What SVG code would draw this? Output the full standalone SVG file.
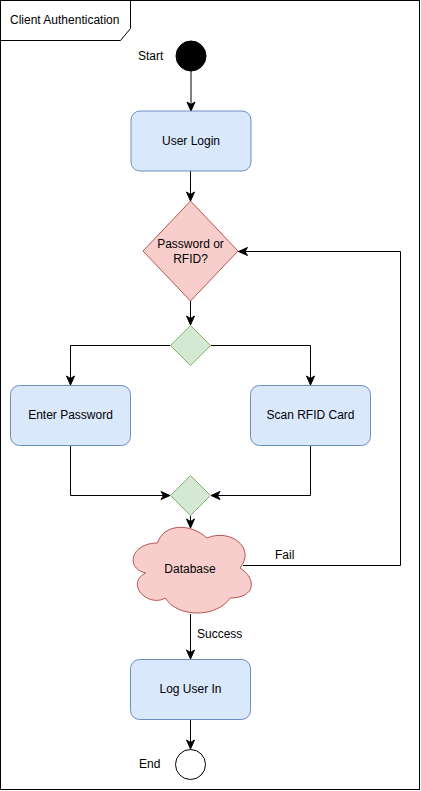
<svg xmlns="http://www.w3.org/2000/svg" width="421" height="791" viewBox="0 0 421 791">
<style>
text{font-family:"Liberation Sans",Arial,sans-serif;font-size:12px;fill:#000}
.c{text-anchor:middle}
.blue{fill:#dae8fc;stroke:#6c8ebf;stroke-width:1}
.red{fill:#f8cecc;stroke:#b85450;stroke-width:1}
.green{fill:#d5e8d4;stroke:#82b366;stroke-width:1}
.edge{fill:none;stroke:#000;stroke-width:1}
</style>
<defs>
<marker id="arr" markerUnits="userSpaceOnUse" markerWidth="12" markerHeight="12" viewBox="0 0 12 12" refX="10" refY="6" orient="auto">
<path d="M1,2 L10,6 L1,10 L3.5,6 Z" fill="#000" stroke="#000" stroke-width="1"/>
</marker>
</defs>
<rect width="421" height="791" fill="#fff"/>
<g id="frame">
<rect x="0.5" y="0.5" width="419" height="789" fill="none" stroke="#000"/>
<path d="M0.5,0.5 H130.5 V28.5 L120.5,40.5 H0.5 Z" fill="#fff" stroke="#000"/>
<text x="10" y="24">Client Authentication</text>
</g>
<g id="connectors">
<path class="edge" marker-end="url(#arr)" d="M191,71 V111"/>
<path class="edge" marker-end="url(#arr)" d="M190.5,171 V201"/>
<path class="edge" marker-end="url(#arr)" d="M190.5,301 V325"/>
<path class="edge" marker-end="url(#arr)" d="M170.5,345.5 H70.5 V385"/>
<path class="edge" marker-end="url(#arr)" d="M210.5,345.5 H310.5 V385"/>
<path class="edge" marker-end="url(#arr)" d="M70.5,445 V495.5 H170"/>
<path class="edge" marker-end="url(#arr)" d="M310.5,445 V495.5 H211"/>
<path class="edge" marker-end="url(#arr)" d="M190.5,515.5 V528"/>
<path class="edge" marker-end="url(#arr)" d="M243,565.5 H400.5 V251.5 H238.5"/>
<text x="275" y="559">Fail</text>
<path class="edge" marker-end="url(#arr)" d="M190.5,614 V659"/>
<text x="197" y="638">Success</text>
<path class="edge" marker-end="url(#arr)" d="M190.5,719 V749"/>
</g>
<g id="start">
<circle cx="191" cy="56" r="15" fill="#000" stroke="#000"/>
<text x="138" y="60">Start</text>
</g>
<g id="user-login">
<rect class="blue" x="131" y="111" width="120" height="60" rx="9"/>
<text class="c" x="191" y="145">User Login</text>
</g>
<g id="password-or-rfid">
<path class="red" d="M190.5,201 L238,251 L190.5,301 L143,251 Z"/>
<text class="c" x="190.5" y="248">Password or</text>
<text class="c" x="190.5" y="263">RFID?</text>
</g>
<g id="fork">
<path class="green" d="M190.5,325.5 L210.5,345.5 L190.5,365.5 L170.5,345.5 Z"/>
</g>
<g id="enter-password">
<rect class="blue" x="10.5" y="385.5" width="120" height="60" rx="9"/>
<text class="c" x="70.5" y="419">Enter Password</text>
</g>
<g id="scan-rfid">
<rect class="blue" x="250.5" y="385.5" width="120" height="60" rx="9"/>
<text class="c" x="310.5" y="419">Scan RFID Card</text>
</g>
<g id="join">
<path class="green" d="M190.5,475.5 L210.5,495.5 L190.5,515.5 L170.5,495.5 Z"/>
</g>
<g id="database">
<path class="red" d="M157.5,543 C131.1,543 124.5,568 145.6,573 C124.5,584 148.3,608 165.4,598 C177.3,618 216.9,618 230.1,598 C256.5,598 256.5,578 240,568 C256.5,548 230.1,528 207,538 C190.5,523 164.1,523 157.5,543 Z"/>
<text class="c" x="190" y="573">Database</text>
</g>
<g id="log-user-in">
<rect class="blue" x="130.5" y="659.5" width="120" height="60" rx="9"/>
<text class="c" x="190.5" y="693">Log User In</text>
</g>
<g id="end">
<circle cx="190.5" cy="764.5" r="15" fill="#fff" stroke="#000"/>
<text x="139" y="768">End</text>
</g>
</svg>
